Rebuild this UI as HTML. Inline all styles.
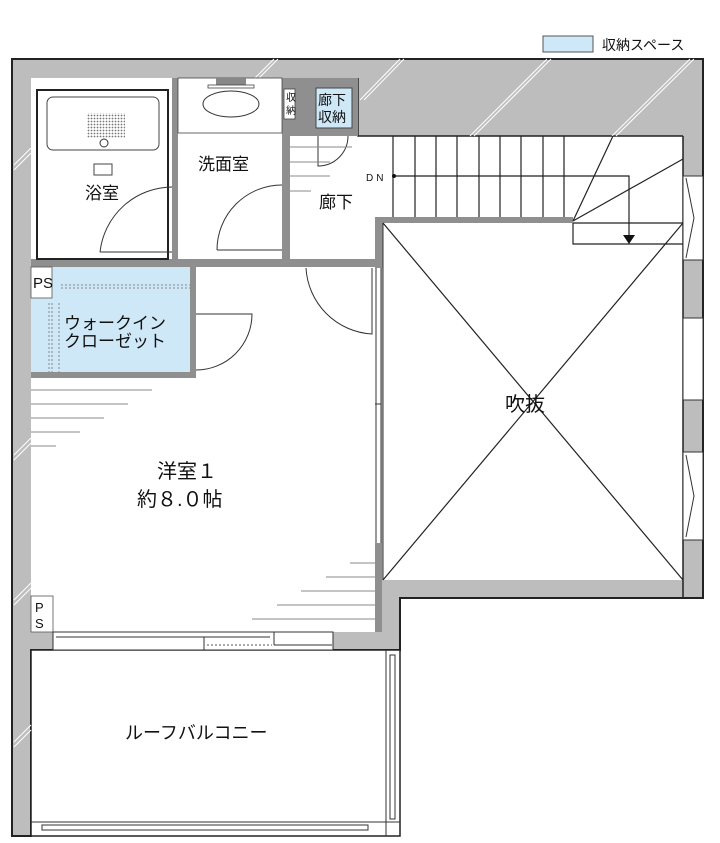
<!DOCTYPE html>
<html><head><meta charset="utf-8"><style>
html,body{margin:0;padding:0;background:#fff}
svg{display:block}
text{font-family:"Liberation Sans","Noto Sans CJK JP",sans-serif;fill:#111}
</style></head><body>
<svg width="720" height="843" viewBox="0 0 720 843" xmlns="http://www.w3.org/2000/svg">
<defs>
<pattern id="dots" width="3" height="3" patternUnits="userSpaceOnUse"><circle cx="1.5" cy="1.5" r="0.9" fill="#777"/></pattern>
</defs>
<rect x="543" y="36" width="50" height="16" fill="#cfe8f8" stroke="#555" stroke-width="1"/>
<text x="602" y="50" font-size="14">収納スペース</text>

<path d="M12,59 H703 V598 H400 V650 H31 V836 H12 Z" fill="#bdbdbd" stroke="#222" stroke-width="2"/>
<rect x="31" y="78" width="327" height="190" fill="#fff"/>
<rect x="290" y="136" width="393" height="126" fill="#fff"/>
<rect x="31" y="262" width="350" height="370" fill="#fff"/>
<rect x="383" y="223" width="300" height="357" fill="#fff"/>
<rect x="31" y="650" width="369" height="186" fill="#fff" stroke="#222" stroke-width="1.5"/>
<path d="M683,136 V598 H400" fill="none" stroke="#222" stroke-width="1.5"/>
<path d="M358,78 V136 H683" fill="none" stroke="#222" stroke-width="1.5"/>

<g stroke="#fff" stroke-width="1">
<line x1="255" y1="78" x2="274" y2="59"/><line x1="259" y1="78" x2="278" y2="59"/>
<line x1="360" y1="100" x2="400" y2="59"/><line x1="364" y1="100" x2="404" y2="59"/>
<line x1="470" y1="136" x2="547" y2="59"/><line x1="474" y1="136" x2="551" y2="59"/>
<line x1="612" y1="136" x2="690" y2="59"/><line x1="616" y1="136" x2="694" y2="59"/>
<line x1="14" y1="165" x2="31" y2="148"/><line x1="14" y1="170" x2="31" y2="153"/>
<line x1="14" y1="455" x2="31" y2="438"/><line x1="14" y1="460" x2="31" y2="443"/>
<line x1="14" y1="600" x2="31" y2="583"/><line x1="14" y1="605" x2="31" y2="588"/>
<line x1="14" y1="742" x2="31" y2="725"/><line x1="14" y1="747" x2="31" y2="730"/>
</g>

<g fill="#8f8f8f">
<rect x="172" y="78" width="6" height="182"/>
<rect x="282" y="78" width="8" height="184"/>
<rect x="290" y="78" width="68" height="58"/>
<rect x="31" y="259" width="350" height="8"/>
<rect x="375" y="217" width="198" height="6"/>
<rect x="375" y="217" width="8" height="51"/>
<rect x="375" y="543" width="7" height="89"/>
<rect x="190" y="267" width="6" height="111"/>
<rect x="31" y="372" width="165" height="6"/>
<rect x="52" y="262" width="9" height="38"/>
<rect x="31" y="596" width="22" height="36"/>
</g>
<g fill="#fff" stroke="#333" stroke-width="1">
<rect x="683" y="176" width="20" height="84"/>
<rect x="683" y="318" width="20" height="82"/>
<rect x="683" y="452" width="20" height="88"/>
</g>
<g stroke="#333" stroke-width="1" fill="none">
<path d="M686,178 L694,218 L686,258"/>
<path d="M686,455 L694,496 L686,537"/>
<line x1="376" y1="268" x2="376" y2="543"/><line x1="381" y1="268" x2="381" y2="543"/>
<line x1="383" y1="223" x2="383" y2="580"/>
<line x1="375" y1="404" x2="381" y2="404"/>
</g>

<rect x="37" y="90" width="131" height="169" fill="#fff" stroke="#222" stroke-width="2"/>
<rect x="47" y="97" width="112" height="53" rx="6" fill="#fff" stroke="#444"/>
<rect x="87" y="113" width="38" height="25" fill="url(#dots)"/>
<circle cx="104" cy="143" r="4" fill="#fff" stroke="#333"/>
<rect x="94" y="164" width="18" height="11" fill="#fff" stroke="#444"/>
<path d="M100,252 A73,73 0 0 1 172,187 M100,252 H172" fill="none" stroke="#333"/>
<rect x="178" y="78" width="104" height="55" fill="#fff" stroke="#444" stroke-width="0.8"/>
<rect x="216" y="78" width="30" height="7" fill="#888"/>
<rect x="208" y="85" width="46" height="3" fill="#fff" stroke="#444" stroke-width="0.8"/>
<ellipse cx="231" cy="104" rx="28" ry="13" fill="#fff" stroke="#333"/>
<path d="M217,250 A65,65 0 0 1 282,185 M217,250 H282" fill="none" stroke="#333"/>
<rect x="284" y="89" width="11" height="30" fill="#fff" stroke="#444" stroke-width="0.8"/>
<text x="286" y="101" font-size="10">収</text><text x="286" y="114" font-size="10">納</text>
<rect x="316" y="88" width="36" height="40" fill="#cfe8f8" stroke="#444"/>
<text x="318" y="105" font-size="14">廊下</text><text x="318" y="122" font-size="14">収納</text>
<path d="M318,136 V166 A30,30 0 0 0 348,136" fill="none" stroke="#333"/>
<g stroke="#888" stroke-width="1">
<line x1="290" y1="147" x2="352" y2="147"/><line x1="290" y1="162" x2="330" y2="162"/>
<line x1="290" y1="176" x2="330" y2="176"/><line x1="290" y1="191" x2="311" y2="191"/>
</g>
<path d="M306,268 A70,70 0 0 0 372,334 V268" fill="none" stroke="#333"/>
<g stroke="#222" stroke-width="1.2" fill="none">
<line x1="393" y1="136" x2="393" y2="217"/><line x1="415" y1="136" x2="415" y2="217"/>
<line x1="436" y1="136" x2="436" y2="217"/><line x1="457" y1="136" x2="457" y2="217"/>
<line x1="479" y1="136" x2="479" y2="217"/><line x1="500" y1="136" x2="500" y2="217"/>
<line x1="521" y1="136" x2="521" y2="217"/><line x1="543" y1="136" x2="543" y2="217"/>
<line x1="564" y1="136" x2="564" y2="217"/>
<line x1="573" y1="221" x2="613" y2="136"/><line x1="573" y1="221" x2="683" y2="159"/>
<line x1="573" y1="223" x2="683" y2="223"/>
<path d="M573,223 V244 H683"/>
<path d="M396,176 H629 V236"/>
<line x1="383" y1="223" x2="683" y2="580"/><line x1="683" y1="223" x2="383" y2="580"/>
</g>
<circle cx="394" cy="176" r="2" fill="#111"/>
<path d="M623,235 H635 L629,244 Z" fill="#111"/>
<text x="366" y="181" font-size="10" letter-spacing="3">DN</text>

<rect x="31" y="267" width="159" height="105" fill="#cfe8f8"/>
<rect x="31" y="267" width="21" height="31" fill="#fff" stroke="#555" stroke-width="0.8"/>
<text x="33" y="288" font-size="15">PS</text>
<g stroke="#888" stroke-dasharray="2,2" fill="none">
<line x1="61" y1="285" x2="190" y2="285"/><line x1="61" y1="288" x2="190" y2="288"/>
<line x1="49" y1="303" x2="49" y2="372"/><line x1="52" y1="303" x2="52" y2="372"/>
<line x1="59" y1="303" x2="59" y2="372"/>
</g>
<path d="M196,314 H252 A56,56 0 0 1 196,370" fill="none" stroke="#333"/>

<g stroke="#888" stroke-width="1">
<line x1="31" y1="390" x2="152" y2="390"/><line x1="31" y1="404" x2="128" y2="404"/>
<line x1="31" y1="418" x2="104" y2="418"/><line x1="31" y1="432" x2="80" y2="432"/>
<line x1="31" y1="446" x2="56" y2="446"/>
<line x1="350" y1="563" x2="375" y2="563"/><line x1="326" y1="577" x2="375" y2="577"/>
<line x1="301" y1="591" x2="375" y2="591"/><line x1="277" y1="605" x2="375" y2="605"/>
<line x1="252" y1="619" x2="375" y2="619"/>
</g>
<rect x="31" y="596" width="22" height="36" fill="#fff" stroke="#555" stroke-width="0.8"/>
<text x="35" y="612" font-size="13">P</text><text x="35" y="628" font-size="13">S</text>
<g fill="#fff" stroke="#333" stroke-width="1">
<rect x="53" y="632" width="280" height="18"/>
<line x1="56" y1="637" x2="270" y2="637"/>
<line x1="204" y1="637" x2="204" y2="650"/>
<line x1="274" y1="632" x2="274" y2="645"/><line x1="274" y1="645" x2="332" y2="645"/>
</g>
<line x1="207" y1="645" x2="272" y2="645" stroke="#555" stroke-dasharray="2,2"/>
<g fill="#fff" stroke="#333" stroke-width="1">
<line x1="31" y1="822" x2="400" y2="822"/>
<line x1="386" y1="650" x2="386" y2="836"/>
<rect x="42" y="825" width="326" height="5"/>
<rect x="390" y="655" width="5" height="164"/>
</g>

<text x="85" y="199" font-size="17">浴室</text>
<text x="198" y="170" font-size="17">洗面室</text>
<text x="319" y="208" font-size="17">廊下</text>
<text x="64" y="329" font-size="17">ウォークイン</text>
<text x="64" y="347" font-size="17">クローゼット</text>
<text x="157" y="478" font-size="20">洋室１</text>
<text x="137" y="506" font-size="20">約８.０帖</text>
<text x="505" y="411" font-size="20">吹抜</text>
<text x="125" y="739" font-size="18">ルーフバルコニー</text>
</svg>
</body></html>
